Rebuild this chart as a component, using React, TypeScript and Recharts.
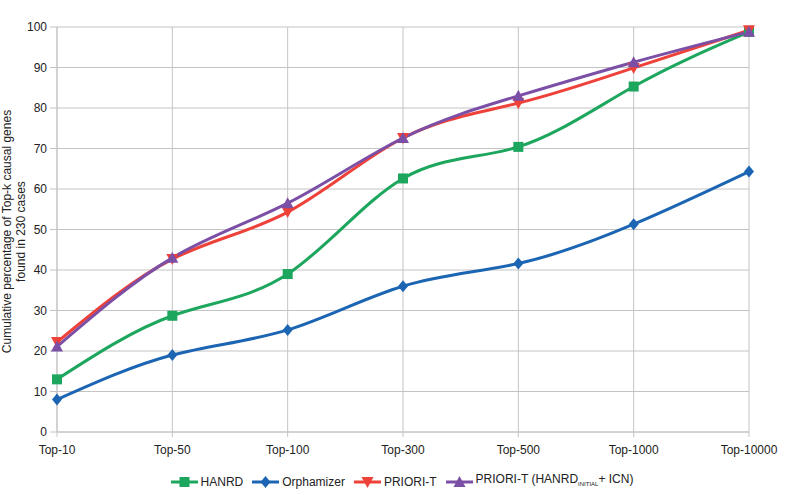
import React from 'react';
import { LineChart, Line, XAxis, YAxis, CartesianGrid } from 'recharts';

const categories = ['Top-10', 'Top-50', 'Top-100', 'Top-300', 'Top-500', 'Top-1000', 'Top-10000'];
const hanrd = [13, 28.7, 39, 62.6, 70.4, 85.3, 98.8];
const orphamizer = [8, 19, 25.2, 36, 41.6, 51.3, 64.3];
const prioriT = [22.2, 42.7, 54.3, 72.6, 81.2, 89.9, 99.2];
const prioriTIcn = [21.1, 43, 56.5, 72.6, 83, 91.3, 98.8];

const yTicks = [0, 10, 20, 30, 40, 50, 60, 70, 80, 90, 100];

const GREEN = '#1da65d';
const BLUE = '#1c65b3';
const RED = '#ee4139';
const PURPLE = '#7b4fa6';
const GRID = '#c4c4c4';
const FONT = '"Liberation Sans", Arial, sans-serif';

const data = categories.map((c, i) => ({
  name: c,
  hanrd: hanrd[i],
  orphamizer: orphamizer[i],
  prioriT: prioriT[i],
  prioriTIcn: prioriTIcn[i],
}));

type Shape = 'square' | 'diamond' | 'down' | 'up';

const marker = (shape: Shape, color: string, cx: number, cy: number, key?: any) => {
  if (shape === 'square') {
    return <rect key={key} x={cx - 5} y={cy - 5} width={10} height={10} fill={color} />;
  }
  if (shape === 'diamond') {
    return <path key={key} d={`M${cx},${cy - 6}L${cx + 5},${cy}L${cx},${cy + 6}L${cx - 5},${cy}Z`} fill={color} />;
  }
  if (shape === 'down') {
    return <path key={key} d={`M${cx - 6},${cy - 5}L${cx + 6},${cy - 5}L${cx},${cy + 6}Z`} fill={color} />;
  }
  return <path key={key} d={`M${cx - 6},${cy + 5}L${cx + 6},${cy + 5}L${cx},${cy - 6}Z`} fill={color} />;
};

const makeDot = (shape: Shape, color: string) => (props: any) => {
  const { cx, cy, index } = props;
  if (cx == null || cy == null) return <g key={index} />;
  return marker(shape, color, cx, cy, index);
};

const YLabel = (props: any) => {
  const vb = props.viewBox || {};
  const cy = vb.y + vb.height / 2 + 2;
  return (
    <g>
      <text x={11} y={cy} transform={`rotate(-90, 11, ${cy})`} textAnchor="middle" fontSize={12} fontFamily={FONT} fill="#222">
        Cumulative percentage of Top-k causal genes
      </text>
      <text x={25} y={cy} transform={`rotate(-90, 25, ${cy})`} textAnchor="middle" fontSize={12} fontFamily={FONT} fill="#222">
        found in 230 cases
      </text>
    </g>
  );
};

const legendItems: { label: React.ReactNode; color: string; shape: Shape }[] = [
  { label: 'HANRD', color: GREEN, shape: 'square' },
  { label: 'Orphamizer', color: BLUE, shape: 'diamond' },
  { label: 'PRIORI-T', color: RED, shape: 'down' },
  {
    label: (
      <span>
        PRIORI-T (HANRD<sub style={{ fontSize: 6, verticalAlign: -3 }}>INITIAL</sub>+ ICN)
      </span>
    ),
    color: PURPLE,
    shape: 'up',
  },
];

const App: React.FC = () => {
  return (
    <div style={{ position: 'absolute', left: 0, top: 0, width: 800, height: 495, background: '#fff', fontFamily: FONT }}>
      <LineChart width={800} height={460} data={data} margin={{ top: 27, right: 51, bottom: 0, left: 0 }}>
        <CartesianGrid stroke={GRID} strokeWidth={1} />
        <XAxis
          dataKey="name"
          height={28}
          axisLine={{ stroke: GRID }}
          tickLine={{ stroke: GRID }}
          tickSize={5}
          tickMargin={8}
          interval={0}
          tick={{ fontSize: 12, fontFamily: FONT, fill: '#222' }}
        />
        <YAxis
          width={57}
          domain={[0, 100]}
          ticks={yTicks}
          axisLine={{ stroke: GRID }}
          tickLine={{ stroke: GRID }}
          tickSize={7}
          tickMargin={3}
          tick={{ fontSize: 12, fontFamily: FONT, fill: '#222' }}
          label={{ content: YLabel }}
        />
        <Line type="natural" dataKey="hanrd" stroke={GREEN} strokeWidth={3} dot={makeDot('square', GREEN)} activeDot={false} isAnimationActive={false} />
        <Line type="natural" dataKey="orphamizer" stroke={BLUE} strokeWidth={3} dot={makeDot('diamond', BLUE)} activeDot={false} isAnimationActive={false} />
        <Line type="natural" dataKey="prioriT" stroke={RED} strokeWidth={3} dot={makeDot('down', RED)} activeDot={false} isAnimationActive={false} />
        <Line type="natural" dataKey="prioriTIcn" stroke={PURPLE} strokeWidth={3} dot={makeDot('up', PURPLE)} activeDot={false} isAnimationActive={false} />
      </LineChart>
      <div
        style={{
          position: 'absolute',
          top: 472,
          left: 0,
          width: 800,
          display: 'flex',
          justifyContent: 'center',
          alignItems: 'center',
          fontSize: 12,
          color: '#222',
          paddingLeft: 2,
        }}
      >
        {legendItems.map((it, i) => (
          <div key={i} style={{ display: 'flex', alignItems: 'center', marginRight: i < legendItems.length - 1 ? 9 : 0 }}>
            <svg width={27} height={14} style={{ marginRight: 3 }}>
              <line x1={0} y1={7} x2={27} y2={7} stroke={it.color} strokeWidth={3} />
              {marker(it.shape, it.color, 13.5, 7)}
            </svg>
            <span style={{ lineHeight: '14px' }}>{it.label}</span>
          </div>
        ))}
      </div>
    </div>
  );
};

export default App;
